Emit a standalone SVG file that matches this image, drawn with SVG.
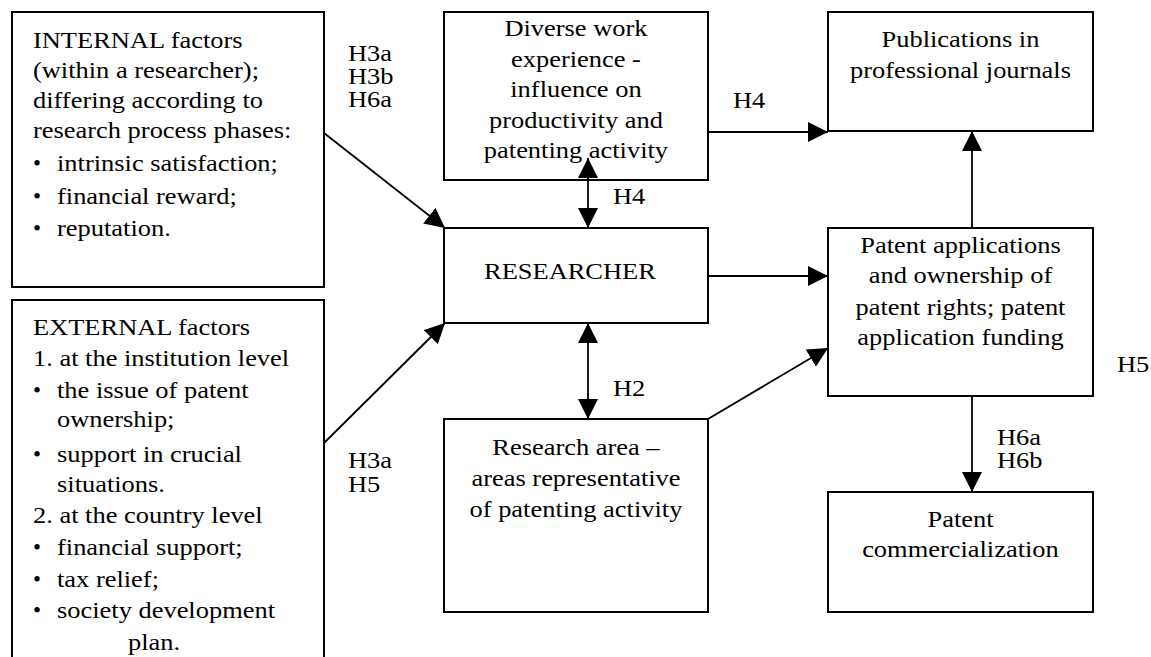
<svg xmlns="http://www.w3.org/2000/svg" width="1151" height="657" viewBox="0 0 1151 657">
<style>
text{font-family:"Liberation Serif","Times New Roman",serif;font-size:23px;fill:#000}
.s{transform-box:fill-box;transform-origin:0% 50%;transform:scaleX(1.15)}
.m{text-anchor:middle;transform-box:fill-box;transform-origin:50% 50%;transform:scaleX(1.15)}
.box{fill:#fff;stroke:#000;stroke-width:2}
.c{stroke:#000;stroke-width:1.8;fill:none}
</style>
<defs>
<marker id="ah" viewBox="0 0 20 20" markerUnits="userSpaceOnUse" markerWidth="20" markerHeight="20" refX="20" refY="10" orient="auto-start-reverse">
<path d="M0,0 L20,10 L0,20 z" fill="#000"/>
</marker>
</defs>
<rect width="1151" height="657" fill="#fff"/>

<g id="internal">
<rect class="box" x="12" y="12" width="312" height="275"/>
<text class="s" x="33" y="48">INTERNAL factors</text>
<text class="s" x="33" y="78">(within a researcher);</text>
<text class="s" x="33" y="108">differing according to</text>
<text class="s" x="33" y="138">research process phases:</text>
<text x="33" y="171">•</text><text class="s" x="57" y="171">intrinsic satisfaction;</text>
<text x="33" y="204">•</text><text class="s" x="57" y="204">financial reward;</text>
<text x="33" y="236">•</text><text class="s" x="57" y="236">reputation.</text>
</g>

<g id="external">
<rect class="box" x="12" y="300" width="312" height="370"/>
<text class="s" x="33" y="335">EXTERNAL factors</text>
<text class="s" x="33" y="366">1. at the institution level</text>
<text x="33" y="398">•</text><text class="s" x="57" y="398">the issue of patent</text>
<text class="s" x="57" y="427">ownership;</text>
<text x="33" y="462">•</text><text class="s" x="57" y="462">support in crucial</text>
<text class="s" x="57" y="492">situations.</text>
<text class="s" x="33" y="523">2. at the country level</text>
<text x="33" y="555">•</text><text class="s" x="57" y="555">financial support;</text>
<text x="33" y="587">•</text><text class="s" x="57" y="587">tax relief;</text>
<text x="33" y="618">•</text><text class="s" x="57" y="618">society development</text>
<text class="s" x="128" y="650">plan.</text>
</g>

<g id="diverse">
<rect class="box" x="444" y="12" width="264" height="168"/>
<text class="m" x="576" y="36">Diverse work</text>
<text class="m" x="576" y="67">experience -</text>
<text class="m" x="576" y="97">influence on</text>
<text class="m" x="576" y="128">productivity and</text>
<text class="m" x="576" y="158">patenting activity</text>
</g>

<g id="researcher">
<rect class="box" x="444" y="228" width="264" height="95"/>
<text class="m" x="570" y="279">RESEARCHER</text>
</g>

<g id="research-area">
<rect class="box" x="444" y="419" width="264" height="193"/>
<text class="m" x="576" y="455">Research area –</text>
<text class="m" x="576" y="486">areas representative</text>
<text class="m" x="576" y="517">of patenting activity</text>
</g>

<g id="publications">
<rect class="box" x="828" y="12" width="265" height="119"/>
<text class="m" x="960.5" y="47">Publications in</text>
<text class="m" x="960.5" y="78">professional journals</text>
</g>

<g id="patent-applications">
<rect class="box" x="828" y="228" width="265" height="168"/>
<text class="m" x="960.5" y="253">Patent applications</text>
<text class="m" x="960.5" y="283">and ownership of</text>
<text class="m" x="960.5" y="315">patent rights; patent</text>
<text class="m" x="960.5" y="345">application funding</text>
</g>

<g id="commercialization">
<rect class="box" x="828" y="492" width="265" height="120"/>
<text class="m" x="960.5" y="527">Patent</text>
<text class="m" x="960.5" y="557">commercialization</text>
</g>

<g id="connectors">
<line class="c" x1="324" y1="133" x2="445" y2="228" marker-end="url(#ah)"/>
<line class="c" x1="324" y1="443" x2="445" y2="323" marker-end="url(#ah)"/>
<line class="c" x1="588" y1="158" x2="588" y2="228" marker-start="url(#ah)" marker-end="url(#ah)"/>
<line class="c" x1="588" y1="323" x2="588" y2="419" marker-start="url(#ah)" marker-end="url(#ah)"/>
<line class="c" x1="708" y1="132" x2="828" y2="132" marker-end="url(#ah)"/>
<line class="c" x1="708" y1="276" x2="828" y2="276" marker-end="url(#ah)"/>
<line class="c" x1="708" y1="419" x2="828" y2="348" marker-end="url(#ah)"/>
<line class="c" x1="972" y1="228" x2="972" y2="131" marker-end="url(#ah)"/>
<line class="c" x1="972" y1="396" x2="972" y2="492" marker-end="url(#ah)"/>
</g>

<g id="labels">
<text class="s" x="348" y="61">H3a</text>
<text class="s" x="348" y="84">H3b</text>
<text class="s" x="348" y="107">H6a</text>
<text class="s" x="733" y="108">H4</text>
<text class="s" x="613" y="204">H4</text>
<text class="s" x="613" y="396">H2</text>
<text class="s" x="348" y="468">H3a</text>
<text class="s" x="348" y="492">H5</text>
<text class="s" x="997" y="445">H6a</text>
<text class="s" x="997" y="468">H6b</text>
<text class="s" x="1117" y="372">H5</text>
</g>
</svg>
